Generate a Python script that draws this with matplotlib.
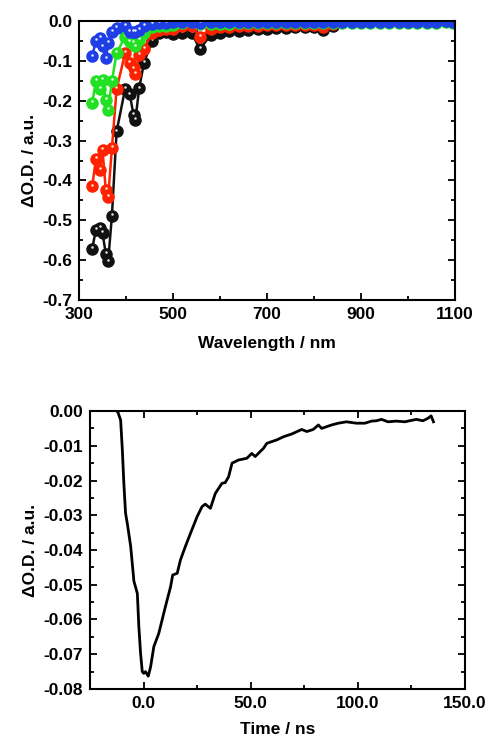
import matplotlib
matplotlib.use("Agg")
import matplotlib.pyplot as plt
from matplotlib.ticker import MultipleLocator, FixedLocator, FormatStrFormatter
from matplotlib.transforms import ScaledTranslation

plt.rcParams['font.family'] = ['Liberation Sans', 'DejaVu Sans']
plt.rcParams['font.weight'] = 'bold'
plt.rcParams['axes.unicode_minus'] = False

# --- transient absorption spectra (top panel) ---
wl_short = [328, 336, 345, 350, 357, 362, 370, 380, 398, 408, 416, 420, 428, 438, 455,
            470, 485, 500, 520, 540, 557, 580, 600, 620, 640, 660, 680, 700, 720, 740,
            760, 780, 800, 820, 840]
wl_long = wl_short + [860, 880, 900, 920, 940, 960, 980, 1000, 1020, 1040, 1060, 1080, 1095]

od_black = [-0.571, -0.524, -0.520, -0.532, -0.584, -0.603, -0.489, -0.277, -0.171, -0.184,
            -0.236, -0.248, -0.169, -0.106, -0.050, -0.031, -0.028, -0.033, -0.030, -0.030,
            -0.071, -0.035, -0.030, -0.025, -0.024, -0.022, -0.020, -0.019, -0.018, -0.017,
            -0.016, -0.015, -0.015, -0.022, -0.012]
od_red = [-0.415, -0.346, -0.373, -0.323, -0.424, -0.442, -0.319, -0.171, -0.081, -0.106,
          -0.119, -0.133, -0.085, -0.071, -0.030, -0.022, -0.020, -0.020, -0.012, -0.012,
          -0.040, -0.020, -0.016, -0.014, -0.013, -0.012, -0.012, -0.011, -0.011, -0.010,
          -0.010, -0.010, -0.010, -0.015, -0.008]
od_green = [-0.206, -0.150, -0.171, -0.148, -0.198, -0.223, -0.150, -0.081, -0.039, -0.052,
            -0.056, -0.064, -0.048, -0.031, -0.016, -0.013, -0.012, -0.010, -0.006, -0.003,
            -0.008, -0.008, -0.007, -0.007, -0.006, -0.006, -0.006, -0.006, -0.005, -0.005,
            -0.005, -0.005, -0.005, -0.005, -0.005, -0.005, -0.005, -0.005, -0.005, -0.004,
            -0.004, -0.004, -0.004, -0.004, -0.004, -0.004, -0.003, -0.004]
od_blue = [-0.089, -0.050, -0.043, -0.064, -0.094, -0.056, -0.027, -0.017, -0.013, -0.027,
           -0.027, -0.027, -0.023, -0.013, -0.008, -0.005, -0.004, -0.003, -0.003, -0.003,
           -0.004, -0.003, -0.003, -0.003, -0.003, -0.003, -0.003, -0.003, -0.003, -0.003,
           -0.003, -0.003, -0.003, -0.003, -0.003, -0.003, -0.003, -0.003, -0.003, -0.003,
           -0.003, -0.003, -0.003, -0.003, -0.003, -0.003, 0.000, -0.003]

# --- kinetic trace (bottom panel) ---
t_ns = [-24.0, -20.0, -16.0, -13.0, -12.0, -10.7, -9.9, -9.2, -8.4, -7.6, -6.0, -4.5, -2.9,
        -2.2, -1.4, -0.6, 0.1, 0.9, 2.2, 3.3, 4.8, 7.1, 10.2, 12.6, 13.6, 15.7, 17.2, 19.5,
        21.9, 25.0, 27.3, 28.8, 31.2, 33.5, 36.6, 38.1, 39.7, 41.3, 44.3, 48.2, 50.5, 52.1,
        56.0, 57.5, 62.2, 65.3, 69.2, 73.8, 76.2, 79.2, 81.6, 83.1, 87.8, 90.9, 94.7, 99.3,
        103.3, 106.4, 108.7, 111.0, 114.1, 118.0, 121.9, 124.2, 127.3, 130.4, 132.7, 134.2,
        135.3]
od_trace = [0.0002, 0.0002, 0.0003, 0.0002, -0.0003, -0.0026, -0.0112, -0.0208, -0.0294,
            -0.0323, -0.0390, -0.0490, -0.0525, -0.0620, -0.0697, -0.0750, -0.0755, -0.0750,
            -0.0763, -0.0736, -0.0678, -0.0640, -0.0563, -0.0506, -0.0472, -0.0467, -0.0429,
            -0.0390, -0.0352, -0.0304, -0.0275, -0.0268, -0.0280, -0.0237, -0.0208, -0.0206,
            -0.0189, -0.0150, -0.0141, -0.0136, -0.0122, -0.0131, -0.0107, -0.0093, -0.0083,
            -0.0074, -0.0066, -0.0053, -0.0059, -0.0053, -0.0040, -0.0050, -0.0040, -0.0035,
            -0.0031, -0.0035, -0.0035, -0.0029, -0.0028, -0.0024, -0.0031, -0.0029, -0.0031,
            -0.0028, -0.0024, -0.0028, -0.0021, -0.0014, -0.0031]

fig = plt.figure(figsize=(4.88, 7.41), dpi=100)
ax1 = fig.add_axes([0.1619, 0.5951, 0.7705, 0.3766])
ax2 = fig.add_axes([0.1844, 0.0702, 0.7684, 0.3751])

# sphere-like markers: solid circle plus a small white highlight near the top
shift = ScaledTranslation(-0.2 / 72, 1.3 / 72, fig.dpi_scale_trans)
series = [(wl_short, od_black, '#111111'),
          (wl_short, od_red, '#ff2200'),
          (wl_long, od_green, '#22e022'),
          (wl_long, od_blue, '#1f3fe6')]
for x, y, c in series:
    ax1.plot(x, y, '-', color=c, lw=1.8, marker='o', ms=8, mfc=c, mec=c)
    ax1.plot(x, y, linestyle='none', marker='o', ms=1.8, mew=0, color='white', alpha=0.9,
             transform=ax1.transData + shift)

ax1.set_xlim(300, 1100)
ax1.set_ylim(-0.7, 0.0)
ax1.xaxis.set_major_locator(FixedLocator([300, 500, 700, 900, 1100]))
ax1.xaxis.set_minor_locator(FixedLocator([400, 600, 800, 1000]))
ax1.yaxis.set_major_locator(MultipleLocator(0.1))
ax1.yaxis.set_minor_locator(MultipleLocator(0.05))
ax1.yaxis.set_major_formatter(FormatStrFormatter('%.1f'))
ax1.set_xlabel('Wavelength / nm', fontsize=12.5, fontweight='bold', labelpad=10)
ax1.set_ylabel('ΔO.D. / a.u.', fontsize=12.5, fontweight='bold', labelpad=4)

ax2.plot(t_ns, od_trace, '-', color='black', lw=2.0)
ax2.set_xlim(-25, 150)
ax2.set_ylim(-0.08, 0.0)
ax2.xaxis.set_major_locator(MultipleLocator(50))
ax2.xaxis.set_minor_locator(MultipleLocator(25))
ax2.yaxis.set_major_locator(MultipleLocator(0.01))
ax2.yaxis.set_minor_locator(MultipleLocator(0.005))
ax2.xaxis.set_major_formatter(FormatStrFormatter('%.1f'))
ax2.yaxis.set_major_formatter(FormatStrFormatter('%.2f'))
ax2.set_xlabel('Time / ns', fontsize=12.5, fontweight='bold', labelpad=8)
ax2.set_ylabel('ΔO.D. / a.u.', fontsize=12.5, fontweight='bold', labelpad=4)

for ax in (ax1, ax2):
    for s in ax.spines.values():
        s.set_linewidth(1.5)
    ax.tick_params(which='both', direction='in', top=True, right=True, width=1.3,
                   labelsize=12.5, pad=5)
    ax.tick_params(which='major', length=5)
    ax.tick_params(which='minor', length=3)
    for lab in ax.get_xticklabels() + ax.get_yticklabels():
        lab.set_fontweight('bold')

fig.savefig('out.png', dpi=100)
